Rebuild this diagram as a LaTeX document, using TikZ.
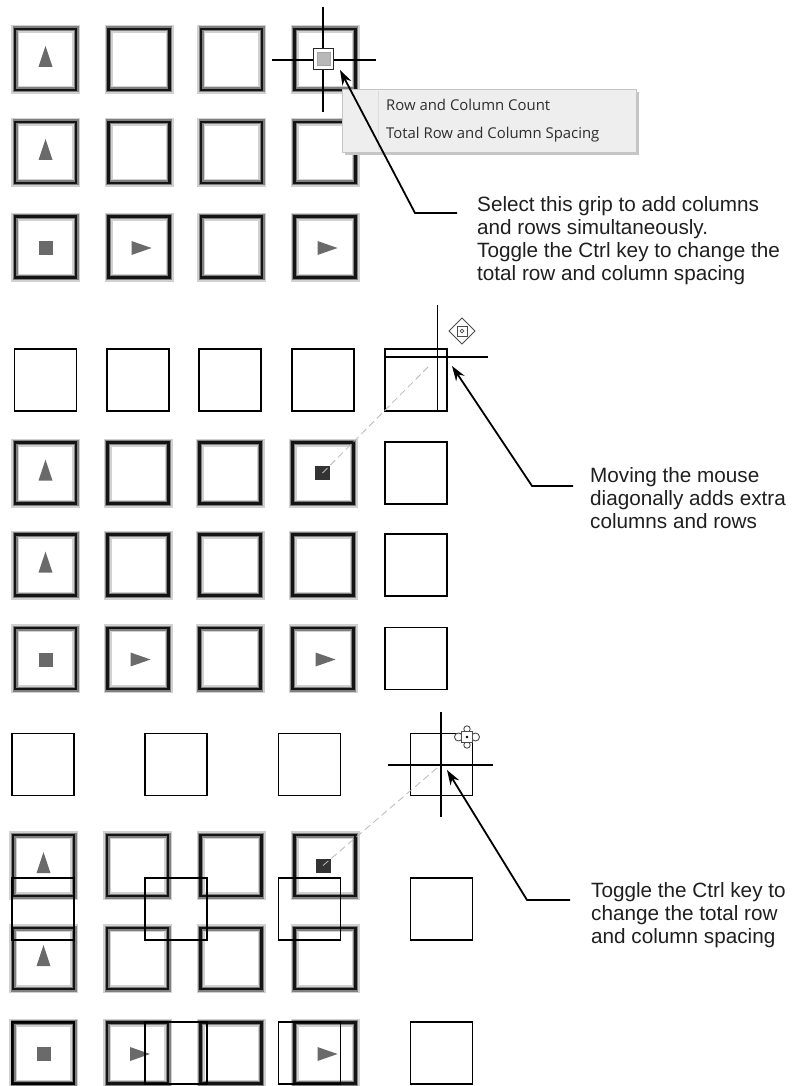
\documentclass[tikz,border=0pt]{standalone}
\usepackage{fontspec}
\setmainfont{Liberation Sans}
\newfontfamily\menufont{Open Sans}
\usetikzlibrary{arrows.meta,calc}
\definecolor{symgray}{HTML}{6A6A6A}
\definecolor{menubg}{HTML}{EEEEEE}
\tikzset{
  thickbox/.style={rectangle, minimum width=61pt, minimum height=61pt, inner sep=0pt,
    draw=black!92, line width=2.3pt,
    preaction={draw=black!18, line width=8pt},
    preaction={draw=black!50, line width=5pt}},
  thinbox/.style={rectangle, minimum width=62pt, minimum height=62pt, inner sep=0pt,
    draw=black, line width=1.1pt},
  sym/.style={fill=symgray},
  gripdark/.style={rectangle, fill=black!80, minimum width=15pt, minimum height=14pt, inner sep=0pt},
  cross/.style={draw=black, line width=1.3pt},
  guide/.style={draw=gray!55, line width=0.8pt, dash pattern=on 7pt off 4pt},
  callout/.style={draw=black, line width=1.8pt, -{Stealth[length=15pt,width=10pt]}},
  note/.style={anchor=north west, inner sep=0pt, align=left,
    font=\fontsize{20.7}{23}\selectfont, text=black!88},
  menutext/.style={anchor=base west, inner sep=0pt, font=\menufont\fontsize{14.9}{17}\selectfont, text=black!82},
  icon/.style={draw=gray!60!black, line width=0.9pt, fill=white}
}
\newcommand\symUp[1]{\fill[sym,shift={(#1.center)}] (0,-13.5) -- (7,7.5) -- (-7,7.5) -- cycle;}
\newcommand\symSq[1]{\fill[sym,shift={(#1.center)}] (-7,-6) rectangle (7,8);}
\newcommand\symRt[1]{\fill[sym,shift={(#1.center)}] (-7.5,-6) -- (12.5,1) -- (-7.5,8) -- cycle;}
\begin{document}
\begin{tikzpicture}[x=1pt,y=-1pt]
\useasboundingbox (0,0) rectangle (793,1086);
\fill[white] (0,0) rectangle (793,1086);

% ===== top section =====
\foreach \r/\y in {1/59.5,2/152.5,3/247}
  \foreach \c/\x in {1/45.5,2/139,3/231.5,4/325}
    \node[thickbox] (A\r\c) at (\x,\y) {};
\symUp{A11}\symUp{A21}\symSq{A31}\symRt{A32}\symRt{A34}

\coordinate (c1) at (323,60);
\draw[cross] ($(c1)+(-51,0)$) -- ($(c1)+(53,0)$);
\draw[cross] ($(c1)+(0,-53)$) -- ($(c1)+(0,52)$);
\node[rectangle, draw=black!85, line width=1.4pt, fill=white, minimum width=20pt, minimum height=21pt, inner sep=0pt] (g1) at (323.5,59) {};
\fill[gray!55, draw=gray!70] ($(g1.center)+(-6.5,-6.5)$) rectangle ($(g1.center)+(6.5,6.5)$);

% context menu
\fill[gray!45] (345,92) rectangle (639,155);
\node[rectangle, fill=menubg, draw=gray!45, line width=0.6pt, anchor=north west,
  minimum width=294pt, minimum height=63pt, inner sep=0pt] (menu) at (342,89) {};
\draw[gray!28, line width=0.6pt] (378,91) -- (378,150);
\node[menutext] (m1) at (386,111) {Row and Column Count};
\node[menutext] (m2) at (386,139) {Total Row and Column Spacing};

\node[note] (n1) at (477,196) {Select this grip to add columns\\and rows simultaneously.\\Toggle the Ctrl key to change the\\total row and column spacing};
\coordinate (e1) at ($(n1.north west)+(-20,17)$);
\coordinate (k1) at (415,213);
\coordinate (t1) at (340,70);
\draw[callout] (e1) -- (k1) -- (t1);

% ===== middle section =====
\foreach \r/\y in {1/473,2/565,3/658.5}
  \foreach \c/\x in {1/45.5,2/138,3/230,4/323}
    \node[thickbox] (B\r\c) at (\x,\y) {};
\symUp{B11}\symUp{B21}\symSq{B31}\symRt{B32}\symRt{B34}
\node[gripdark] (g2) at (322.5,473) {};

\foreach \c/\x in {1/45.5,2/138,3/230,4/323,5/416}
  \node[thinbox] (P0\c) at (\x,380) {};
\foreach \r/\y in {1/473,2/565,3/658.5}
  \node[thinbox] (P\r5) at (416,\y) {};

\coordinate (c2) at (437,357);
\draw[guide] (g2.center) -- ($(c2)+(-9,10)$);
\draw[cross] ($(c2)+(-52,0)$) -- ($(c2)+(51,0)$);
\draw[cross, line width=1pt] ($(c2)+(0,-52)$) -- ($(c2)+(0,53)$);

\coordinate (gi2) at (462,331);
\begin{scope}[shift={(gi2)}]
  \draw[icon] (0,-13) -- (13,0) -- (0,13) -- (-13,0) -- cycle;
  \draw[icon] (-5,-5) rectangle (5,5);
  \draw[icon, line width=0.7pt] (0,0) circle (1.8);
\end{scope}

\node[note] (n2) at (590,467) {Moving the mouse\\diagonally adds extra\\columns and rows};
\coordinate (e2) at ($(n2.north west)+(-17,19)$);
\coordinate (k2) at (532,486);
\coordinate (t2) at (452,366);
\draw[callout] (e2) -- (k2) -- (t2);

% ===== bottom section =====
\foreach \r/\y in {1/865.5,2/958.5,3/1053}
  \foreach \c/\x in {1/43.5,2/137.5,3/231,4/325}
    \node[thickbox] (C\r\c) at (\x,\y) {};
\symUp{C11}\symUp{C21}\symSq{C31}\symRt{C32}\symRt{C34}
\node[gripdark] (g3) at (323,865.5) {};

\foreach \r/\y in {1/764.5,2/909,3/1053}
  \foreach \c/\x in {1/43,2/176,3/309.5,4/441.5}
    \node[thinbox] (Q\r\c) at (\x,\y) {};

\coordinate (c3) at (441,765);
\draw[guide] (g3.center) -- ($(c3)+(-4,3)$);
\draw[cross] ($(c3)+(-53,0)$) -- ($(c3)+(52,0)$);
\draw[cross] ($(c3)+(0,-53)$) -- ($(c3)+(0,52)$);

\coordinate (gi3) at (467,737);
\begin{scope}[shift={(gi3)}]
  \draw[icon] (-8.5,0) circle (4);
  \draw[icon] (8.5,0) circle (4);
  \draw[icon] (0,-8) circle (3.2);
  \draw[icon] (0,8) circle (3.2);
  \draw[icon] (-5.5,-5.5) rectangle (5.5,5.5);
  \fill[black] (0,0) circle (1.4);
\end{scope}

\node[note] (n3) at (591,882) {Toggle the Ctrl key to\\change the total row\\and column spacing};
\coordinate (e3) at ($(n3.north west)+(-21,18)$);
\coordinate (k3) at (527,900);
\coordinate (t3) at (447,770);
\draw[callout] (e3) -- (k3) -- (t3);
\end{tikzpicture}
\end{document}
